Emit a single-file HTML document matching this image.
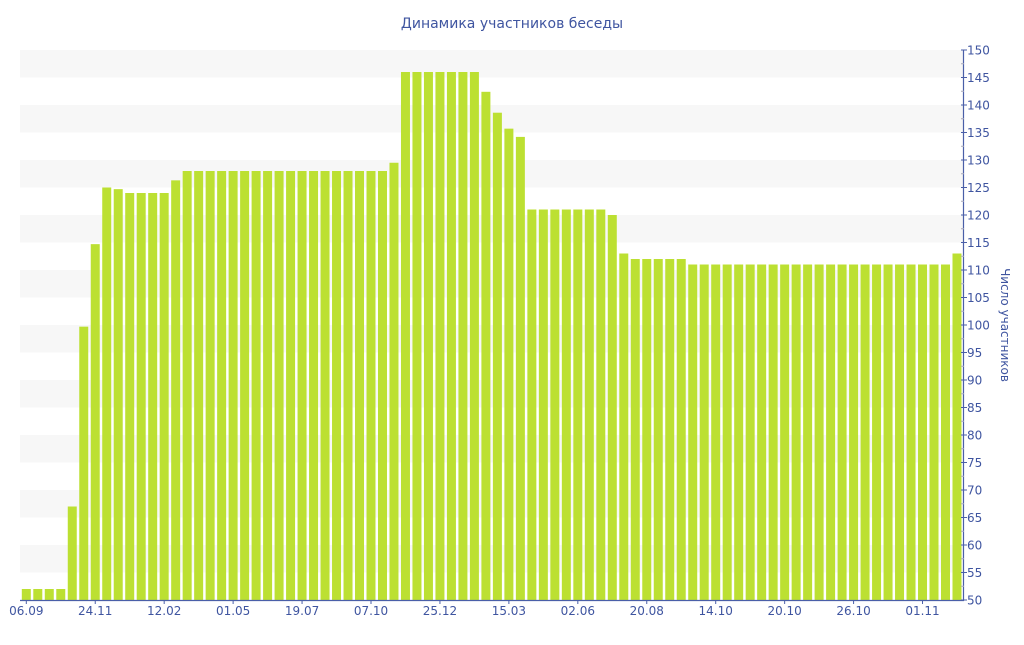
<!DOCTYPE html>
<html><head><meta charset="utf-8"><style>
body{margin:0;background:#fff;width:1024px;height:640px;overflow:hidden}
svg text{font-family:"DejaVu Sans","Liberation Sans",sans-serif;fill:#3f55a0}
</style></head><body>
<svg id="s" width="1024" height="640" xmlns="http://www.w3.org/2000/svg">
<text x="512" y="28" text-anchor="middle" font-size="14">Динамика участников беседы</text>
<g id="bands"></g><g id="bars"></g><g id="ax"></g>
<text transform="translate(1001,325) rotate(90)" text-anchor="middle" font-size="12">Число участников</text>
</svg>
<script>
var ns="http://www.w3.org/2000/svg";
function el(p,t,a){var e=document.createElementNS(ns,t);for(var k in a)e.setAttribute(k,a[k]);document.getElementById(p).appendChild(e);return e;}
function Y(v){return 600-(v-50)*5.5;}
for(var v=55;v<150;v+=10){el("bands","rect",{x:20,y:Y(v+5),width:943,height:27.5,fill:"#f7f7f7"});}
var vals=[52,52,52,52,67,99.7,114.7,125,124.7,124,124,124,124,126.3];
for(var i=14;i<=31;i++)vals.push(128);
vals.push(129.5);
for(i=33;i<=39;i++)vals.push(146);
vals.push(142.4,138.6,135.7,134.2);
for(i=44;i<=50;i++)vals.push(121);
vals.push(120,113);
for(i=53;i<=57;i++)vals.push(112);
for(i=58;i<=80;i++)vals.push(111);
vals.push(113);
var p=11.49;
vals.forEach(function(v,i){var c=26.3+i*p;el("bars","rect",{x:c-4.5,y:Y(v),width:9,height:600-Y(v),fill:"#bce032"});});
el("ax","line",{x1:20,y1:600.5,x2:964,y2:600.5,stroke:"#4a5fa8","stroke-width":1.2});
el("ax","line",{x1:963.5,y1:50,x2:963.5,y2:601,stroke:"#4a5fa8","stroke-width":1.2});
for(v=50;v<=150;v+=2.5){var y=Y(v);var maj=(v%5==0);
el("ax","line",{x1:maj?961:961,y1:y,x2:maj?967:964,y2:y,stroke:maj?"#4a5fa8":"#aab",'stroke-width':1});
if(maj){var t=el("ax","text",{x:967,y:y+4.5,"font-size":12});t.textContent=v;}}
var labs=["06.09","24.11","12.02","01.05","19.07","07.10","25.12","15.03","02.06","20.08","14.10","20.10","26.10","01.11"];
labs.forEach(function(l,k){var c=26.3+k*6*p;el("ax","line",{x1:c,y1:600,x2:c,y2:604,stroke:"#4a5fa8"});var t=el("ax","text",{x:c,y:615,"font-size":12,"text-anchor":"middle"});t.textContent=l;});
</script>
</body></html>
